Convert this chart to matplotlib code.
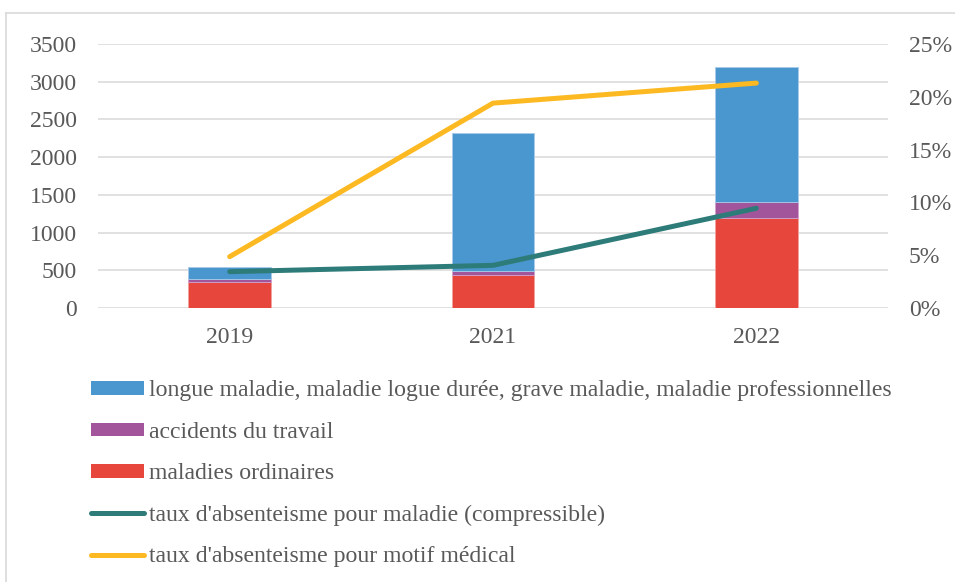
import matplotlib
matplotlib.use('Agg')
import matplotlib.pyplot as plt
from matplotlib.patches import Patch
from matplotlib.lines import Line2D
from matplotlib.ticker import FuncFormatter

# Données
annees = ['2019', '2021', '2022']
maladies_ordinaires = [340, 440, 1190]
accidents_travail = [40, 50, 220]
longue_maladie = [170, 1830, 1790]
taux_compressible = [0.0344, 0.0404, 0.0944]
taux_medical = [0.0486, 0.194, 0.213]

noms = [
    'longue maladie, maladie logue durée, grave maladie, maladie professionnelles',
    'accidents du travail',
    'maladies ordinaires',
    "taux d'absenteisme pour maladie (compressible)",
    "taux d'absenteisme pour motif médical",
]

bleu, violet, rouge = '#4A96CE', '#A3559B', '#E7463C'
vert, jaune = '#2E7C7A', '#FCB921'
gris_texte = '#595959'
gris_grille = '#D9D9D9'

plt.rcParams['font.family'] = ['Liberation Serif', 'DejaVu Serif']
taille = 17.1

fig = plt.figure(figsize=(9.55, 5.82), dpi=100)
ax = fig.add_axes([98 / 955, 1 - 308 / 582, 790 / 955, 264 / 582])

x = range(len(annees))
largeur = 0.314
bas2 = [a + b for a, b in zip(maladies_ordinaires, accidents_travail)]
ax.bar(x, maladies_ordinaires, largeur, color=rouge, edgecolor='#F3A29C', linewidth=0.6, zorder=2)
ax.bar(x, accidents_travail, largeur, bottom=maladies_ordinaires, color=violet,
       edgecolor='#D0A0CB', linewidth=0.6, zorder=2)
ax.bar(x, longue_maladie, largeur, bottom=bas2, color=bleu, edgecolor='#A7CBE8', linewidth=0.6, zorder=2)

ax.set_xlim(-0.5, 2.5)
ax.set_ylim(0, 3500)
ax.set_yticks(range(0, 3501, 500))
ax.set_xticks(list(x))
ax.set_xticklabels(annees)
ax.grid(axis='y', color=gris_grille, linewidth=1.1, zorder=0)
for s in ax.spines.values():
    s.set_visible(False)
ax.tick_params(axis='both', length=0, labelsize=taille, labelcolor=gris_texte)
ax.tick_params(axis='y', pad=15)
ax.tick_params(axis='x', pad=14)

ax2 = ax.twinx()
ax2.plot(x, taux_compressible, color=vert, linewidth=3.6, solid_capstyle='round', zorder=3)
ax2.plot(x, taux_medical, color=jaune, linewidth=3.6, solid_capstyle='round', zorder=3)
ax2.set_ylim(0, 0.25)
ax2.set_yticks([0, 0.05, 0.10, 0.15, 0.20, 0.25])
ax2.yaxis.set_major_formatter(FuncFormatter(lambda v, p: f'{round(v * 100)}%'))
for s in ax2.spines.values():
    s.set_visible(False)
ax2.tick_params(axis='y', length=0, labelsize=taille, labelcolor=gris_texte, pad=15)

poignees = [
    Patch(facecolor=bleu),
    Patch(facecolor=violet),
    Patch(facecolor=rouge),
    Line2D([], [], color=vert, linewidth=3.6, solid_capstyle='round'),
    Line2D([], [], color=jaune, linewidth=3.6, solid_capstyle='round'),
]
fig.legend(poignees, noms, loc='upper left', bbox_to_anchor=(70 / 955, 1 - 359 / 582),
           frameon=False, fontsize=taille, labelcolor=gris_texte, handlelength=2.2,
           handletextpad=0.21, labelspacing=0.86, handleheight=0.5)

# cadre gris du graphique
fig.add_artist(Line2D([6 / 955, 6 / 955], [0, 1 - 13 / 582], color=gris_grille, linewidth=1.2))
fig.add_artist(Line2D([6 / 955, 1], [1 - 13 / 582, 1 - 13 / 582], color=gris_grille, linewidth=1.2))

fig.savefig('out.png', dpi=100)
